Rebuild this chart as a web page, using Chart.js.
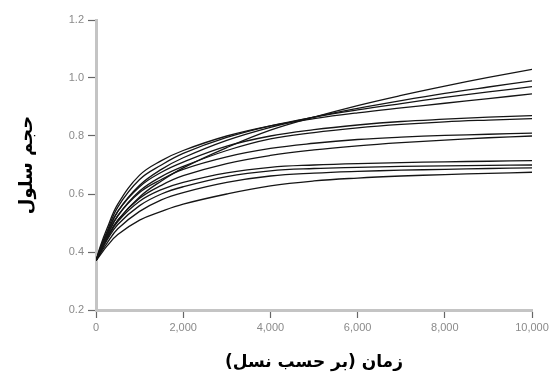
<!DOCTYPE html>
<html>
<head>
<meta charset="utf-8">
<script src="https://cdn.jsdelivr.net/npm/chart.js@4/dist/chart.umd.min.js"></script>
<style>
  html, body { margin: 0; padding: 0; background: #fff; }
  #wrap { width: 552px; height: 386px; }
</style>
</head>
<body>
<div id="wrap"><canvas id="c" width="552" height="386"></canvas></div>
<script>
// Generations at which each population's mean cell volume is sampled
const generations = [0, 100, 250, 500, 1000, 1500, 2000, 3000, 4000, 5000, 6000, 7000, 8000, 9000, 10000];

// Mean cell volume trajectories, one per population
const pop1  = [0.37, 0.405, 0.45, 0.51, 0.59, 0.645, 0.69, 0.76, 0.82, 0.865, 0.905, 0.94, 0.972, 1.002, 1.03];
const pop2  = [0.37, 0.41, 0.46, 0.54, 0.63, 0.685, 0.725, 0.785, 0.83, 0.865, 0.895, 0.922, 0.947, 0.969, 0.99];
const pop3  = [0.37, 0.415, 0.47, 0.555, 0.65, 0.70, 0.74, 0.795, 0.835, 0.865, 0.89, 0.912, 0.933, 0.952, 0.97];
const pop4  = [0.37, 0.42, 0.48, 0.565, 0.665, 0.715, 0.75, 0.80, 0.835, 0.86, 0.88, 0.897, 0.913, 0.929, 0.945];
const pop5  = [0.37, 0.41, 0.465, 0.54, 0.625, 0.675, 0.71, 0.765, 0.80, 0.822, 0.838, 0.85, 0.858, 0.865, 0.87];
const pop6  = [0.37, 0.405, 0.455, 0.525, 0.61, 0.66, 0.695, 0.75, 0.79, 0.812, 0.828, 0.84, 0.849, 0.855, 0.86];
const pop7  = [0.37, 0.405, 0.455, 0.525, 0.605, 0.65, 0.685, 0.728, 0.757, 0.775, 0.788, 0.796, 0.802, 0.806, 0.81];
const pop8  = [0.37, 0.40, 0.445, 0.51, 0.585, 0.63, 0.663, 0.705, 0.733, 0.752, 0.766, 0.777, 0.786, 0.794, 0.80];
const pop9  = [0.37, 0.40, 0.445, 0.505, 0.575, 0.615, 0.64, 0.673, 0.692, 0.70, 0.705, 0.708, 0.711, 0.713, 0.715];
const pop10 = [0.37, 0.40, 0.44, 0.495, 0.56, 0.60, 0.625, 0.66, 0.68, 0.688, 0.692, 0.695, 0.697, 0.699, 0.70];
const pop11 = [0.37, 0.395, 0.43, 0.48, 0.54, 0.58, 0.605, 0.64, 0.662, 0.672, 0.678, 0.682, 0.685, 0.688, 0.69];
const pop12 = [0.37, 0.39, 0.42, 0.46, 0.51, 0.54, 0.565, 0.60, 0.628, 0.645, 0.655, 0.662, 0.667, 0.671, 0.675];

const populations = [pop1, pop2, pop3, pop4, pop5, pop6, pop7, pop8, pop9, pop10, pop11, pop12];

// Axis ticks
const xTicks = [0, 2000, 4000, 6000, 8000, 10000];
const yTicks = [0.2, 0.4, 0.6, 0.8, 1.0, 1.2];

const xTitle = 'زمان (بر حسب نسل)';
const yTitle = 'حجم سلول';

const datasets = populations.map((vals, i) => ({
  label: 'pop' + (i + 1),
  data: generations.map((g, j) => ({ x: g, y: vals[j] })),
  borderColor: '#151515',
  borderWidth: 1.3,
  pointRadius: 0,
  fill: false,
  tension: 0.4
}));

const tickFont = { family: "'Liberation Sans', Arial, sans-serif", size: 11 };
const titleFont = { family: "'DejaVu Sans', sans-serif", size: 17, weight: 'bold' };

new Chart(document.getElementById('c'), {
  type: 'line',
  data: { datasets },
  options: {
    responsive: false,
    animation: false,
    devicePixelRatio: 1,
    layout: { padding: { top: 20, right: 20, bottom: 0, left: 0 } },
    plugins: { legend: { display: false }, tooltip: { enabled: false } },
    scales: {
      x: {
        type: 'linear',
        min: xTicks[0],
        max: xTicks[xTicks.length - 1],
        afterBuildTicks: s => { s.ticks = xTicks.map(v => ({ value: v })); },
        afterFit: s => { s.height = 76; },
        border: { display: true, color: '#c4c4c4', width: 3 },
        grid: { drawOnChartArea: false, drawTicks: true, tickLength: 8, color: '#666', tickWidth: 1.2 },
        ticks: {
          color: '#8a8a8a',
          font: tickFont,
          padding: 3,
          maxRotation: 0,
          callback: v => v.toLocaleString('en-US')
        },
        title: { display: true, text: xTitle, color: '#000', font: titleFont, padding: { top: 0, bottom: 13 } }
      },
      y: {
        type: 'linear',
        min: yTicks[0],
        max: yTicks[yTicks.length - 1],
        afterBuildTicks: s => { s.ticks = yTicks.map(v => ({ value: v })); },
        afterFit: s => { s.width = 96; },
        border: { display: true, color: '#c4c4c4', width: 3 },
        grid: { drawOnChartArea: false, drawTicks: true, tickLength: 8, color: '#666', tickWidth: 1.2 },
        ticks: {
          color: '#8a8a8a',
          font: tickFont,
          padding: 4,
          callback: v => Number(v).toFixed(1)
        },
        title: { display: true, text: yTitle, color: '#000', font: { ...titleFont, size: 18 }, padding: { top: 17, bottom: 0 } }
      }
    }
  }
});
</script>
</body>
</html>
